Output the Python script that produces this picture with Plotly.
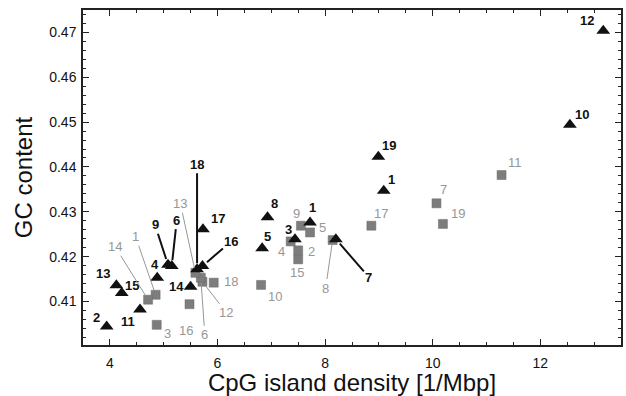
import plotly.graph_objects as go

# Triangles (black)
tri_labels = ["12", "10", "19", "1", "8", "5", "1", "3", "7", "17", "16", "18", "6", "9", "4", "13", "15", "11", "2", "14"]
tri_x = [13.17, 12.55, 8.99, 9.09, 6.93, 6.83, 7.72, 7.44, 8.20, 5.73, 5.72, 5.62, 5.15, 5.08, 4.88, 4.12, 4.22, 4.56, 3.94, 5.50]
tri_y = [0.4704, 0.4494, 0.4423, 0.4347, 0.4288, 0.4219, 0.4276, 0.4239, 0.4239, 0.4261, 0.4179, 0.4172, 0.4179, 0.4182, 0.4153, 0.4136, 0.4119, 0.4082, 0.4044, 0.4133]

# Squares (gray)
sq_labels = ["11", "7", "19", "17", "9", "5", "4", "2", "15", "8", "10", "18", "12", "6", "16", "3", "13", "1", "14"]
sq_x = [11.28, 10.07, 10.19, 8.86, 7.55, 7.72, 7.36, 7.50, 7.50, 8.14, 6.81, 5.93, 5.72, 5.69, 5.48, 4.87, 5.59, 4.85, 4.71]
sq_y = [0.4382, 0.4319, 0.4273, 0.4269, 0.4269, 0.4254, 0.4234, 0.4214, 0.4194, 0.4237, 0.4137, 0.4142, 0.4144, 0.4153, 0.4094, 0.4048, 0.4164, 0.4115, 0.4104]

# label offsets in pixels (dx, dy, leader line)
tri_off = [(-16, -10, 0), (12, -10, 0), (11, -11, 0), (8, -11, 0), (7, -14, 0), (5, -12, 0),
           (2, -15, 0), (-6, -10, 0), (33, 38, 1), (15, -11, 0), (29, -25, 1), (0, -105, 1),
           (5, -46, 1), (-13, -40, 1), (-2, -13, 0), (-13, -12, 0), (10, -7, 0), (-12, 12, 0),
           (-10, -9, 0), (-14, 0, 0)]
sq_off = [(13, -13, 0), (7, -14, 0), (15, -10, 0), (10, -12, 0), (-4, -12, 0), (12, -5, 0),
          (-9, 10, 0), (13, 1, 0), (-1, 13, 0), (-7, 48, 1), (14, 12, 0), (17, -1, 0),
          (24, 31, 1), (4, 57, 1), (-4, 26, 0), (11, 9, 0), (-15, -69, 1), (-20, -58, 1),
          (-33, -53, 1)]

fig = go.Figure()
fig.add_trace(go.Scatter(x=sq_x, y=sq_y, mode="markers",
                         marker=dict(symbol="square", size=9, color="#7d7d7d",
                                     line=dict(width=0.5, color="#6a6a6a")),
                         showlegend=False, hoverinfo="skip"))
fig.add_trace(go.Scatter(x=tri_x, y=tri_y, mode="markers",
                         marker=dict(symbol="triangle-up", size=12, color="#111111"),
                         showlegend=False, hoverinfo="skip"))

annotations = []
for lab, x, y, (dx, dy, ln) in zip(tri_labels, tri_x, tri_y, tri_off):
    font = dict(family="Liberation Sans, Arial", size=13, color="#111111")
    if ln:
        annotations.append(dict(x=x, y=y, text="<b>%s</b>" % lab, showarrow=True, arrowhead=0,
                                ax=dx, ay=dy, arrowwidth=2, arrowcolor="#111111",
                                standoff=6, font=font))
    else:
        annotations.append(dict(x=x, y=y, text="<b>%s</b>" % lab, showarrow=False,
                                xshift=dx, yshift=-dy, font=font))
for lab, x, y, (dx, dy, ln) in zip(sq_labels, sq_x, sq_y, sq_off):
    font = dict(family="Liberation Sans, Arial", size=13, color="#979797")
    if ln:
        annotations.append(dict(x=x, y=y, text=lab, showarrow=True, arrowhead=0,
                                ax=dx, ay=dy, arrowwidth=1, arrowcolor="#979797",
                                standoff=5, font=font))
    else:
        annotations.append(dict(x=x, y=y, text=lab, showarrow=False,
                                xshift=dx, yshift=-dy, font=font))

axis_common = dict(showgrid=False, zeroline=False, showline=True, linecolor="#222222",
                   linewidth=1.5, mirror="allticks", ticks="inside", ticklen=6,
                   tickcolor="#222222", tickwidth=1,
                   tickfont=dict(family="Liberation Sans, Arial", size=14, color="#111111"))

fig.update_layout(
    width=626, height=396,
    margin=dict(l=83, r=3, t=10, b=51),
    paper_bgcolor="white", plot_bgcolor="white",
    annotations=annotations,
    xaxis=dict(range=[3.5, 13.5], tickvals=[4, 6, 8, 10, 12], ticklabelstandoff=4,
               minor=dict(ticks="inside", dtick=0.5, tick0=0, ticklen=3, tickcolor="#222222"),
               title=dict(text="CpG island density [1/Mbp]", standoff=5,
                          font=dict(family="Liberation Sans, Arial", size=24, color="#111111")),
               **axis_common),
    yaxis=dict(range=[0.4003, 0.475], tickvals=[0.41, 0.42, 0.43, 0.44, 0.45, 0.46, 0.47],
               tickformat=".2f", ticklabelstandoff=2,
               minor=dict(ticks="inside", dtick=0.002, tick0=0, ticklen=3, tickcolor="#222222"),
               title=dict(text="GC content", standoff=10,
                          font=dict(family="Liberation Sans, Arial", size=24, color="#111111")),
               **axis_common),
)

fig.write_html("out.html")
